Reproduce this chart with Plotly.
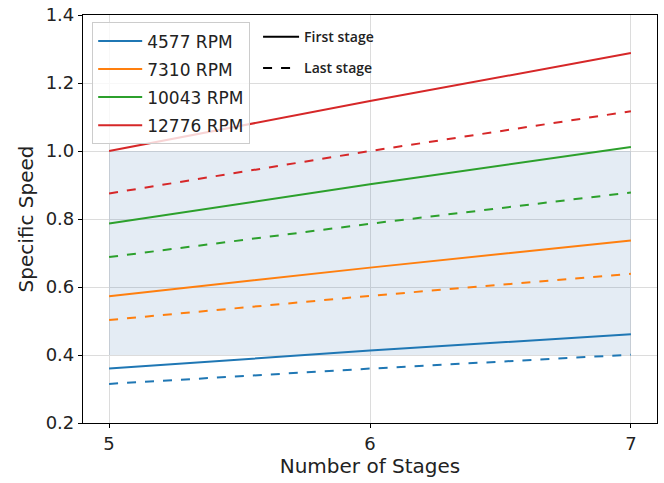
import plotly.graph_objects as go

stages = [5, 6, 7]
rpm_labels = ["4577 RPM", "7310 RPM", "10043 RPM", "12776 RPM"]
colors = ["#1f77b4", "#ff7f0e", "#2ca02c", "#d62728"]
first_stage = [
    [0.360, 0.413, 0.461],
    [0.573, 0.657, 0.737],
    [0.787, 0.902, 1.012],
    [1.000, 1.147, 1.288],
]
last_stage = [
    [0.315, 0.360, 0.401],
    [0.503, 0.574, 0.639],
    [0.688, 0.786, 0.878],
    [0.875, 1.000, 1.117],
]
band_x = [5, 7]
band_low = [0.4, 0.4]
band_high = [1.0, 1.0]

fig = go.Figure()

# shaded band
fig.add_trace(go.Scatter(x=band_x, y=band_low, mode="lines", line=dict(width=0),
                         showlegend=False, hoverinfo="skip"))
fig.add_trace(go.Scatter(x=band_x, y=band_high, mode="lines", line=dict(width=0),
                         fill="tonexty", fillcolor="rgba(30,97,163,0.12)",
                         showlegend=False, hoverinfo="skip"))

for i, (lab, c, fs, ls) in enumerate(zip(rpm_labels, colors, first_stage, last_stage)):
    fig.add_trace(go.Scatter(x=stages, y=fs, mode="lines", name=lab,
                             line=dict(color=c, width=2), legend="legend",
                             legendgroup=f"g{i}"))
    fig.add_trace(go.Scatter(x=stages, y=ls, mode="lines", showlegend=False,
                             line=dict(color=c, width=2, dash="dash"),
                             legendgroup=f"g{i}"))

# stage-style legend (legend2)
fig.add_trace(go.Scatter(x=[None], y=[None], mode="lines", name="First stage",
                         line=dict(color="black", width=2), legend="legend2",
                         legendgroup="s1"))
fig.add_trace(go.Scatter(x=[None], y=[None], mode="lines", name="Last stage",
                         line=dict(color="black", width=2, dash="dash"), legend="legend2",
                         legendgroup="s2"))

axis_common = dict(showline=True, linecolor="black", linewidth=1.2, mirror=True,
                   showgrid=True, gridcolor="#dcdcdc", gridwidth=1,
                   ticks="outside", ticklen=4, tickcolor="black", zeroline=False,
                   automargin=False,
                   tickfont=dict(family="DejaVu Sans", size=18, color="#222"))

fig.update_layout(
    width=664, height=483,
    margin=dict(l=83, r=7, t=15, b=60),
    plot_bgcolor="white", paper_bgcolor="white",
    font=dict(family="DejaVu Sans", color="#222"),
    xaxis=dict(range=[4.9, 7.1], tickvals=[5, 6, 7], ticktext=["5", "6", "7"],
               title=dict(text="Number of Stages", font=dict(family="DejaVu Sans", size=20), standoff=6),
               **axis_common),
    yaxis=dict(range=[0.2, 1.4], tickvals=[0.2, 0.4, 0.6, 0.8, 1.0, 1.2, 1.4],
               ticktext=["0.2", "0.4", "0.6", "0.8", "1.0", "1.2", "1.4"],
               title=dict(text="Specific Speed", font=dict(family="DejaVu Sans", size=20), standoff=6),
               **axis_common),
    legend=dict(x=0.016, y=0.982, xanchor="left", yanchor="top", traceorder="grouped",
                bgcolor="rgba(255,255,255,0.8)", bordercolor="#cccccc", borderwidth=1,
                font=dict(family="DejaVu Sans", size=17, color="#222"),
                itemwidth=44, tracegroupgap=3),
    legend2=dict(x=0.305, y=0.985, xanchor="left", yanchor="top", traceorder="grouped",
                 bgcolor="rgba(0,0,0,0)", borderwidth=0,
                 font=dict(family="Open Sans", size=14, color="#222", weight=600),
                 itemwidth=36, tracegroupgap=10),
)

fig.write_html("out.html", config={"displayModeBar": False},
               post_script="document.body.style.margin='0';")
